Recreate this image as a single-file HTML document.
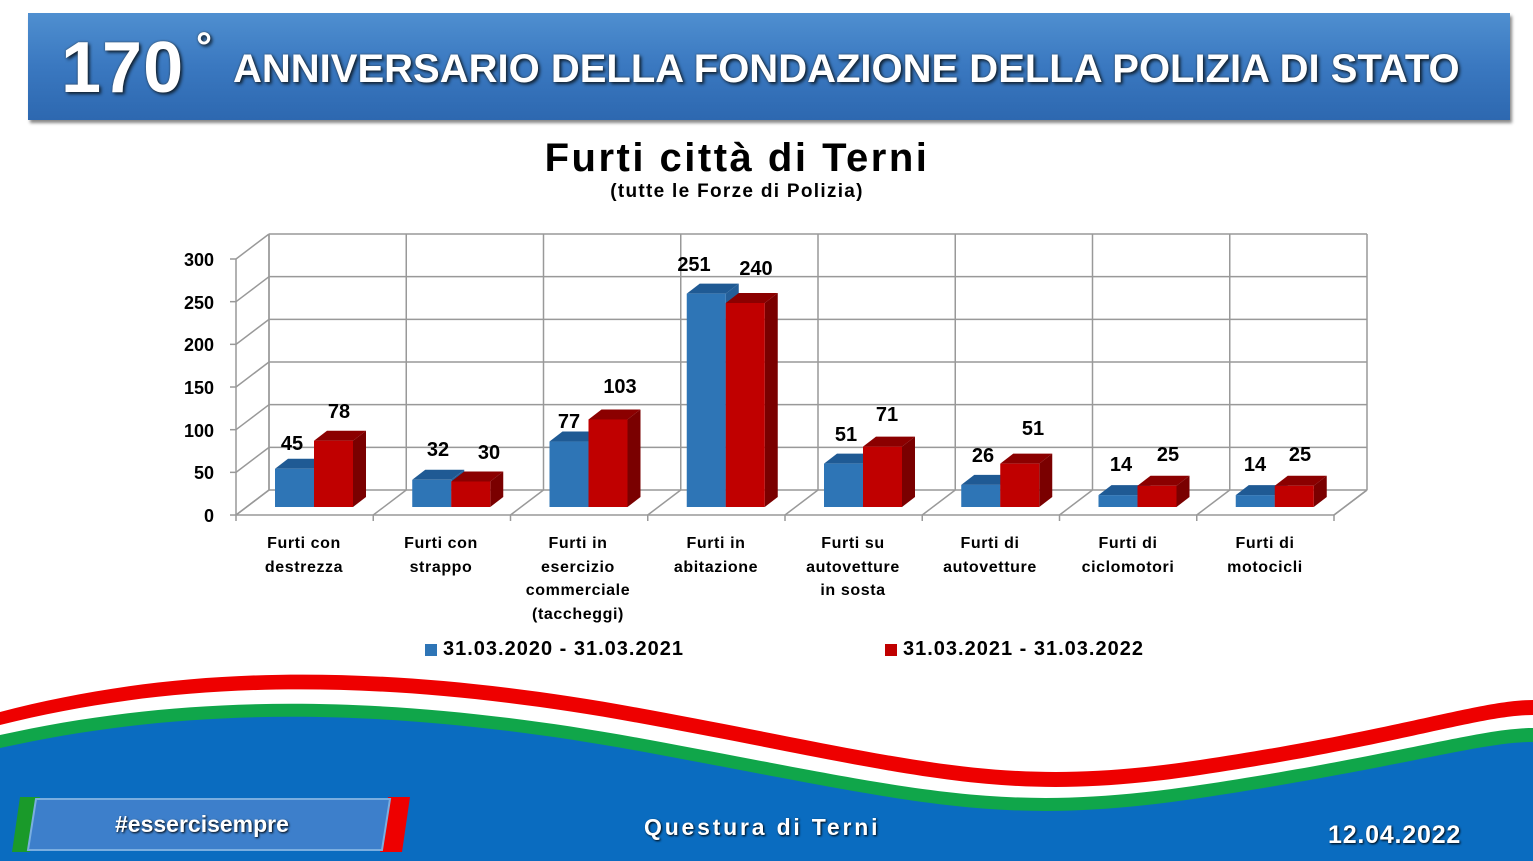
<!DOCTYPE html>
<html><head><meta charset="utf-8"><style>
body{margin:0;width:1533px;height:861px;overflow:hidden;background:#fff;font-family:"Liberation Sans",Arial,sans-serif;position:relative}
.hdr{position:absolute;left:28px;top:13px;width:1482px;height:107px;background:linear-gradient(#4f8fd0,#3a78c0 50%,#2d68b0);box-shadow:2px 3px 3px #888}
.hdr span{position:absolute;color:#fff;font-weight:bold;text-shadow:2px 2px 3px #123,0 0 2px #345}
.t{position:absolute;font-weight:bold;color:#000}
</style></head><body>
<div class="hdr"><span style="left:33px;top:14px;font-size:72px;letter-spacing:1px">170</span><span style="left:168px;top:12px;font-size:40px">°</span><span style="left:205px;top:34px;font-size:40px;letter-spacing:0px">ANNIVERSARIO DELLA FONDAZIONE DELLA POLIZIA DI STATO</span></div>
<div class="t" style="left:0;width:1474px;text-align:center;top:136px;font-size:40px;letter-spacing:2.5px">Furti città di Terni</div>
<div class="t" style="left:0;width:1474px;text-align:center;top:181px;font-size:19px;letter-spacing:1.3px">(tutte le Forze di Polizia)</div>
<svg style="position:absolute;left:0;top:0" width="1533" height="861">
<g stroke="#999" stroke-width="1.5" fill="none">
<line x1="269" y1="234" x2="269" y2="490"/><line x1="236" y1="259" x2="236" y2="515"/>
<line x1="236" y1="515" x2="1334" y2="515"/><line x1="1334" y1="515" x2="1367" y2="490"/>
<g id="gl"></g>
</g>
<g id="bars"></g>
<g font-weight="bold" font-size="18" text-anchor="end" font-family="Liberation Sans">
<text x="214" y="266">300</text><text x="214" y="309">250</text><text x="214" y="351">200</text><text x="214" y="394">150</text><text x="214" y="437">100</text><text x="214" y="479">50</text><text x="214" y="522">0</text>
</g>
<path d="M0 712 C180 665 380 660 650 710 S1000 790 1200 760 S1480 700 1533 700 L1533 861 L0 861Z" fill="#e00"/>
<path d="M0 725 C180 680 380 675 650 725 S1000 805 1200 775 S1480 715 1533 715 L1533 861 L0 861Z" fill="#fff"/>
<path d="M0 735 C180 695 380 690 650 740 S1000 815 1200 785 S1480 728 1533 728 L1533 861 L0 861Z" fill="#10a64a"/>
<path d="M0 748 C180 708 380 703 650 753 S1000 828 1200 798 S1480 742 1533 742 L1533 861 L0 861Z" fill="#0a6cc0"/>
<polygon points="20,797 40,797 30,852 12,852" fill="#1a9a2a"/>
<polygon points="388,797 410,797 402,852 380,852" fill="#e00"/>
<polygon points="36,799 390,799 382,850 28,850" fill="#3d7fcb" stroke="#7aaee0" stroke-width="2"/>
</svg>
<script>
var gl=document.getElementById('gl'),s='';
for(var i=0;i<7;i++){var yb=234+i*42.67,yf=259+i*42.67;s+='<line x1="269" y1="'+yb+'" x2="1367" y2="'+yb+'"/><line x1="236" y1="'+yf+'" x2="269" y2="'+yb+'"/><line x1="230" y1="'+yf+'" x2="236" y2="'+yf+'"/>';}
for(var j=0;j<=8;j++){var x=269+j*137.25;s+='<line x1="'+x+'" y1="234" x2="'+x+'" y2="490"/>';var xf=236+j*137.25;s+='<line x1="'+xf+'" y1="515" x2="'+x+'" y2="490"/><line x1="'+xf+'" y1="515" x2="'+xf+'" y2="521"/>';}
gl.innerHTML=s;
var d=[[45,78],[32,30],[77,103],[251,240],[51,71],[26,51],[14,25],[14,25]];
var L=[[[292,443],[339,411]],[[438,449],[489,452]],[[569,421],[620,386]],[[694,264],[756,268]],[[846,434],[887,414]],[[983,455],[1033,428]],[[1121,464],[1168,454]],[[1255,464],[1300,454]]];
var b='',c=[['#2e75b6','#1f5a94','#245f99'],['#c00000','#8b0000','#7a0000']];
d.forEach(function(v,i){for(var k=0;k<2;k++){var x=275+i*137.25+k*39,h=v[k]*0.85,y=507-h,w=39;
b+='<polygon points="'+x+','+y+' '+(x+13)+','+(y-10)+' '+(x+w+13)+','+(y-10)+' '+(x+w)+','+y+'" fill="'+c[k][1]+'"/>';
b+='<polygon points="'+(x+w)+','+y+' '+(x+w+13)+','+(y-10)+' '+(x+w+13)+','+(497)+' '+(x+w)+',507" fill="'+c[k][2]+'"/>';
b+='<rect x="'+x+'" y="'+y+'" width="'+w+'" height="'+h+'" fill="'+c[k][0]+'"/>';
b+='<text x="'+L[i][k][0]+'" y="'+(L[i][k][1]+7)+'" text-anchor="middle" font-weight="bold" font-size="20" font-family="Liberation Sans">'+v[k]+'</text>';}});
document.getElementById('bars').innerHTML=b;
</script>
<div style="position:absolute;top:532px;left:0;font-weight:bold;font-size:16px;letter-spacing:0.6px;line-height:23.5px;text-align:center">
<div style="position:absolute;left:234px;width:140px">Furti con<br>destrezza</div>
<div style="position:absolute;left:371px;width:140px">Furti con<br>strappo</div>
<div style="position:absolute;left:508px;width:140px">Furti in<br>esercizio<br>commerciale<br>(taccheggi)</div>
<div style="position:absolute;left:646px;width:140px">Furti in<br>abitazione</div>
<div style="position:absolute;left:783px;width:140px">Furti su<br>autovetture<br>in sosta</div>
<div style="position:absolute;left:920px;width:140px">Furti di<br>autovetture</div>
<div style="position:absolute;left:1058px;width:140px">Furti di<br>ciclomotori</div>
<div style="position:absolute;left:1195px;width:140px">Furti di<br>motocicli</div>
</div>
<div style="position:absolute;left:425px;top:644px;width:12px;height:12px;background:#2e75b6"></div>
<div class="t" style="left:443px;top:638px;font-size:20px;letter-spacing:1px">31.03.2020 - 31.03.2021</div>
<div style="position:absolute;left:885px;top:644px;width:12px;height:12px;background:#c00000"></div>
<div class="t" style="left:903px;top:638px;font-size:20px;letter-spacing:1px">31.03.2021 - 31.03.2022</div>
<div style="position:absolute;left:115px;top:811px;color:#fff;font-weight:bold;font-size:23px;text-shadow:1px 1px 2px #000">#essercisempre</div>
<div style="position:absolute;left:644px;top:814px;color:#fff;font-weight:bold;font-size:23px;letter-spacing:2.8px;text-shadow:1px 1px 2px #000">Questura di Terni</div>
<div style="position:absolute;left:1328px;top:821px;color:#fff;font-weight:bold;font-size:25px;letter-spacing:0.8px;text-shadow:1px 1px 2px #000">12.04.2022</div>
</body></html>
